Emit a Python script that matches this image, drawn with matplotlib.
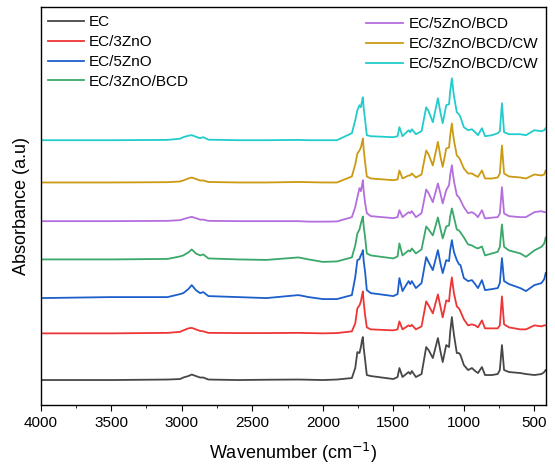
import matplotlib
matplotlib.use("Agg")
from matplotlib import pyplot as plt
import numpy as np

plt.rcParams['font.family'] = ['Liberation Sans', 'DejaVu Sans']

wn = [4000, 3500, 3100, 3012, 2989, 2953, 2929, 2900, 2870, 2847, 2811, 2600,
      2400, 2173, 2100, 2000, 1900, 1794, 1770, 1755, 1740, 1730, 1722, 1716,
      1710, 1700, 1688, 1660, 1500, 1470, 1457, 1435, 1392, 1380, 1369, 1340,
      1300, 1267, 1250, 1220, 1184, 1165, 1150, 1125, 1105, 1097, 1085, 1078,
      1070, 1050, 1035, 1024, 1000, 970, 943, 920, 900, 872, 850, 800, 760,
      745, 730, 715, 680, 600, 560, 500, 450, 430, 420]

ec = [0, 0, 0.5, 1, 2.5, 4, 5.5, 4, 2.5, 2.5, 0.5, 0,
      0.3, 0.5, 0.3, 0, 0.5, 2, 12, 28, 27, 33, 40, 43,
      32, 20, 5, 4, 1, 3, 12, 3, 8, 6, 9, 3,
      6, 33, 30, 22, 42, 28, 18, 35, 33, 48, 63, 54,
      45, 27, 27, 25, 15, 10, 12, 9, 7, 13, 5, 5, 6,
      10, 35, 10, 8, 7, 6, 5, 6, 8, 10]

ec_3zno = [0, 0, 0.5, 1.5, 3, 5, 5.5, 4, 2.5, 2, 0.5, 0.3,
           0.3, 0.5, 0.3, 0, 0.3, 2, 10, 25, 28, 32, 38, 42,
           31, 18, 6, 4, 3, 4, 12, 4, 8, 7, 8.5, 4,
           7, 32, 28, 20, 39, 26, 16, 33, 32, 44, 56, 48,
           40, 27, 25, 22, 14, 8, 9, 8, 6, 13, 5, 5, 5,
           8, 37, 9, 6, 4, 4, 8, 7, 8, 8]

ec_5zno = [-1, 0, 0, 3, 4, 8, 12, 7, 4, 5, 1, 0,
           -1, 2, 0, -2, -2, 2, 20, 37, 38, 42, 44, 47,
           36, 25, 7, 4, 1, 3, 19, 6, 16, 13, 16, 9,
           14, 40, 35, 27, 47, 33, 24, 37, 36, 47, 57, 51,
           45, 37, 33, 32, 19, 16, 17, 13, 9, 17, 7, 8, 9,
           14, 39, 16, 13, 9, 6, 12, 14, 18, 24]

ec_3zno_bcd = [0, 0, 0.5, 3, 4, 7, 10, 6, 4, 5, 1, 0,
               -0.5, 2, 0, -2.5, -2, 2, 14, 26, 30, 36, 40, 43,
               33, 22, 6, 4, 1, 3, 16, 4, 9, 8, 11, 6,
               10, 33, 30, 24, 42, 30, 21, 33, 34, 43, 51, 47,
               42, 30, 29, 27, 22, 15, 14, 12, 11, 13, 4, 6, 7.6,
               12.6, 35, 12.6, 9, 6, 2.6, 9, 12.6, 16, 22]

ec_5zno_bcd = [0, 0, 0.3, 1, 2, 3.5, 4.3, 3, 1.5, 1.5, 0.3, 0,
               0, 0, -0.5, -0.5, -0.3, 4, 14, 24, 33, 30, 36, 41,
               30, 18, 8, 5, 3, 4, 11, 4, 9, 8, 10, 4,
               8, 31.7, 28, 19, 37.7, 27, 17.7, 31, 36, 46, 56, 48,
               40, 26, 24, 21, 14, 8, 9, 7, 4, 11, 2.7, 3.5, 4,
               7.7, 34, 7.7, 5, 4, 4, 9, 10, 9, 9]

ec_3zno_bcd_cw = [0, 0, 0.3, 1, 2, 4, 5, 3.5, 2, 2, 0.5, 0,
                  0, 0.5, 0.3, 0, 0, 6, 18, 29, 32, 35, 40, 44,
                  33, 20, 6, 4, 2.3, 3, 12, 4, 7, 7, 9, 5,
                  8, 32, 28, 17, 40.6, 25, 15.6, 34, 35, 47, 59, 50,
                  42, 27, 25, 22, 14, 9, 9, 7, 5.6, 12, 4, 4, 5,
                  9, 37, 9, 6, 5, 4, 8, 7, 8, 12]

ec_5zno_bcd_cw = [0, 0, 0.3, 1.5, 3, 4.5, 5, 3.5, 2, 3, 0.5, 0,
                  0, 0.3, 0, 0, 0, 7, 20, 30, 35, 33, 39, 43,
                  32, 20, 5, 4, 3, 4, 13, 4, 10, 8, 11, 6,
                  9, 33, 29, 18, 42, 27, 17, 35, 36, 49, 62, 53,
                  44, 28, 26, 23, 13, 10, 11, 8, 5, 12, 4, 5, 7,
                  9, 37, 8, 6, 6, 5, 10, 9, 10, 12]

labels = ["EC", "EC/3ZnO", "EC/5ZnO", "EC/3ZnO/BCD",
          "EC/5ZnO/BCD", "EC/3ZnO/BCD/CW", "EC/5ZnO/BCD/CW"]
spectra = [ec, ec_3zno, ec_5zno, ec_3zno_bcd,
           ec_5zno_bcd, ec_3zno_bcd_cw, ec_5zno_bcd_cw]
# vertical stacking shift of each spectrum
offsets = [25, 71.7, 108, 145.7, 184, 222.7, 265]
colours = ["#474747", "#ee3535", "#1c5fcb", "#3aa86a",
           "#b46ede", "#cc9a12", "#22cccc"]

fig = plt.figure(figsize=(5.55, 4.65), dpi=100)
ax = fig.add_axes([0.0733, 0.129, 0.9099, 0.8553])

lines = []
for y, off, c, lab in zip(spectra, offsets, colours, labels):
    ln, = ax.plot(wn, np.array(y) + off, color=c, lw=1.3, label=lab)
    lines.append(ln)

ax.set_xlim(4000, 420)
ax.set_ylim(0, 398)
ax.set_xticks([4000, 3500, 3000, 2500, 2000, 1500, 1000, 500])
ax.set_xticks(np.arange(3750, 400, -500), minor=True)
ax.set_yticks([])
ax.tick_params(axis="x", which="major", direction="out", length=4,
               labelsize=11, pad=4)
ax.tick_params(axis="x", which="minor", direction="out", length=2.5)
for s in ax.spines.values():
    s.set_linewidth(1.0)

ax.set_xlabel("Wavenumber (cm$^{-1}$)", fontsize=13, labelpad=8)
ax.set_ylabel("Absorbance (a.u)", fontsize=13, labelpad=8)

leg1 = ax.legend(handles=lines[:4], loc="upper left", frameon=False,
                 fontsize=11, handlelength=2.4, handletextpad=0.3,
                 labelspacing=0.38, borderaxespad=0.0,
                 bbox_to_anchor=(0.002, 0.995))
ax.add_artist(leg1)
ax.legend(handles=lines[4:], loc="upper right", frameon=False,
          fontsize=11, handlelength=2.4, handletextpad=0.35,
          labelspacing=0.38, borderaxespad=0.0,
          bbox_to_anchor=(0.997, 0.99))

fig.savefig("out.png", dpi=100)
